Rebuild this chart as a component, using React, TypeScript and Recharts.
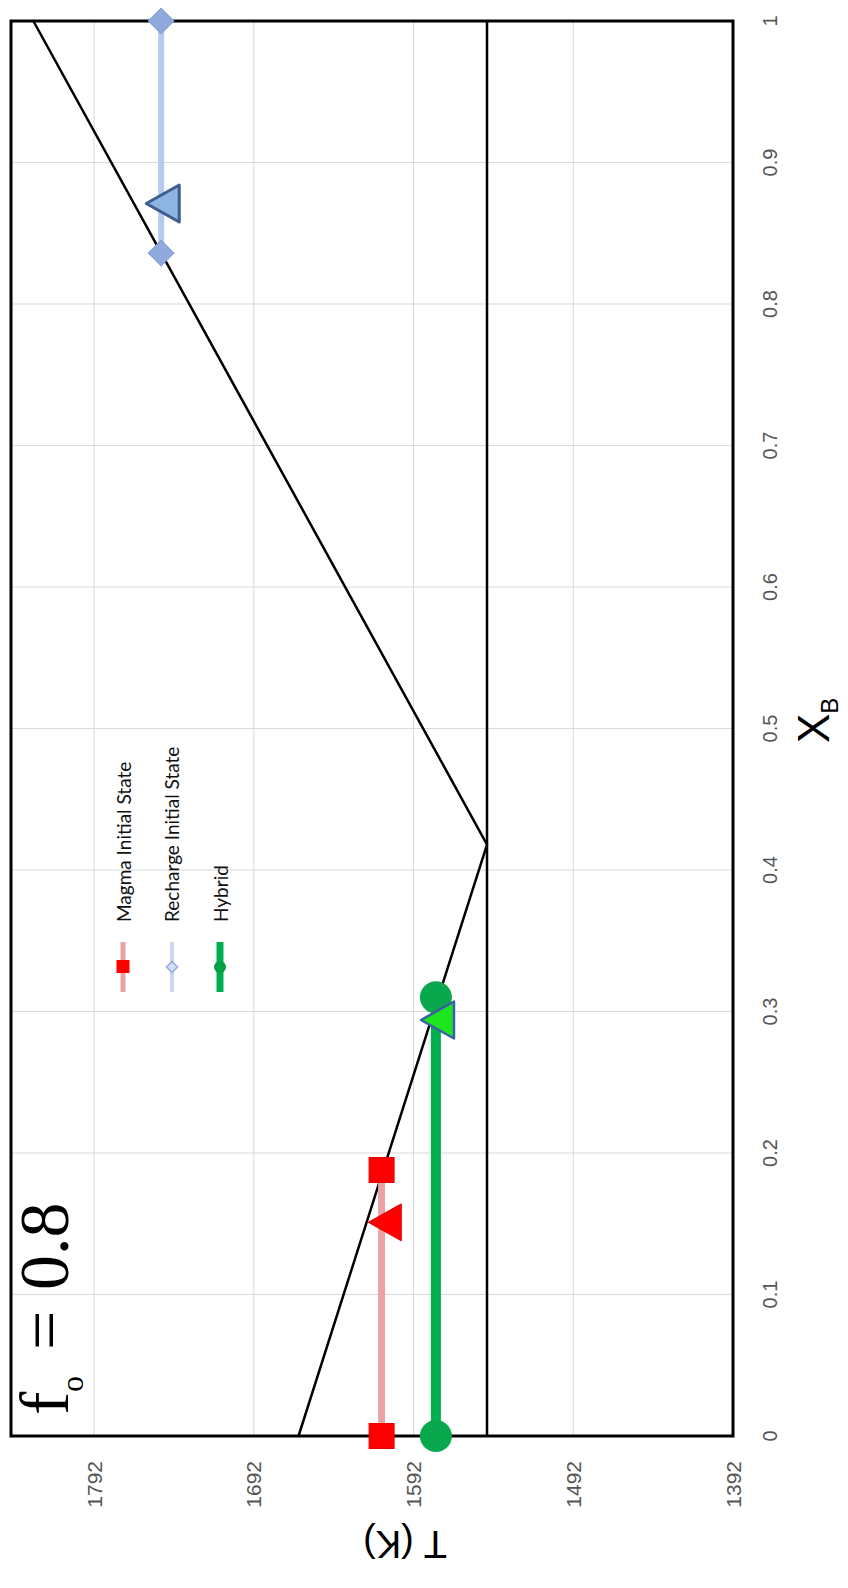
import React from 'react';
import { ComposedChart, Scatter, XAxis, YAxis, CartesianGrid, ReferenceArea, Legend } from 'recharts';

// ---- data ----
const xbTicks = [0, 0.1, 0.2, 0.3, 0.4, 0.5, 0.6, 0.7, 0.8, 0.9, 1];
const tTicks = [1392, 1492, 1592, 1692, 1792];
const tDomain = [1392, 1844];

const liquidusXB = [0, 0.418, 1];
const liquidusT = [1664, 1546, 1830];
const eutecticXB = [0, 1];
const eutecticT = [1546, 1546];

const magmaXB = [0, 0.188];
const magmaT = [1612, 1612];
const magmaTriXB = [0.151];
const magmaTriT = [1610];

const rechargeXB = [0.836, 1.0];
const rechargeT = [1750, 1750];
const rechargeTriXB = [0.871];
const rechargeTriT = [1749];

const hybridXB = [0, 0.31];
const hybridT = [1578, 1578];
const hybridTriXB = [0.294];
const hybridTriT = [1577];

const legendNames = ['Magma Initial State', 'Recharge Initial State', 'Hybrid'];

const zip = (xs: number[], ys: number[]) => xs.map((x, i) => ({ x, y: ys[i] }));

const W = 1588;
const H = 848;

const NoShape = () => <g />;
const Square = (p: any) => (
  <rect x={p.cx - 12.5} y={p.cy - 12.5} width={25} height={25} fill="#ff0000" stroke="#e80000" strokeWidth={1} />
);
const Circle = (p: any) => <circle cx={p.cx} cy={p.cy} r={16} fill="#0aa84c" />;
const Diamond = (p: any) => (
  <polygon
    points={`${p.cx},${p.cy - 13} ${p.cx + 13},${p.cy} ${p.cx},${p.cy + 13} ${p.cx - 13},${p.cy}`}
    fill="#8eaadc"
    stroke="#7f9dd4"
    strokeWidth={1}
  />
);
const makeTri = (fill: string, stroke: string, sw: number) => (p: any) => (
  <polygon
    points={`${p.cx},${p.cy - 16.5} ${p.cx - 18.5},${p.cy + 16.5} ${p.cx + 18.5},${p.cy + 16.5}`}
    fill={fill}
    stroke={stroke}
    strokeWidth={sw}
    strokeLinejoin="round"
  />
);
const RedTri = makeTri('#ff0000', '#e00000', 1);
const BlueTri = makeTri('#8db4e2', '#3d5f8e', 3);
const GreenTri = makeTri('#1ee61e', '#3a5fa8', 2.5);

const XTick = (p: any) => (
  <text x={p.x} y={770} textAnchor="middle" dominantBaseline="central" fontSize={20} fill="#555" fontFamily="'Liberation Sans', Arial, sans-serif">
    {p.payload.value}
  </text>
);
const YTick = (p: any) => (
  <text x={127} y={p.y} textAnchor="end" dominantBaseline="central" fontSize={21} fill="#555" fontFamily="'Liberation Sans', Arial, sans-serif">
    {p.payload.value}
  </text>
);

const XLabel = () => (
  <text x={845} y={829} fontSize={44} fill="#000" fontFamily="'Liberation Sans', Arial, sans-serif">
    X<tspan dy={9} fontSize={24}>B</tspan>
  </text>
);
const YLabel = () => (
  <text
    x={44}
    y={405}
    transform="rotate(-90, 44, 405)"
    textAnchor="middle"
    dominantBaseline="central"
    fontSize={38}
    fill="#000"
    fontFamily="'Liberation Sans', Arial, sans-serif"
  >
    T (K)
  </text>
);

const legendStyles = [
  { line: '#e9a3a3', lw: 5, marker: 'square' },
  { line: '#c9d7f0', lw: 4, marker: 'diamond' },
  { line: '#00b050', lw: 7, marker: 'circle' },
];

const LegendBox = () => (
  <div style={{ fontFamily: 'Lato, sans-serif', fontSize: 19, color: '#111' }}>
    {legendNames.map((name, i) => {
      const s = legendStyles[i];
      return (
        <div key={name} style={{ display: 'flex', alignItems: 'center', height: 48.5 }}>
          <svg width={50} height={20} style={{ display: 'block' }}>
            <line x1={0} y1={10} x2={50} y2={10} stroke={s.line} strokeWidth={s.lw} />
            {s.marker === 'square' && <rect x={19} y={3.5} width={13} height={13} fill="#ff0000" />}
            {s.marker === 'diamond' && (
              <polygon points="25,4.5 30.5,10 25,15.5 19.5,10" fill="#d6e0f4" stroke="#8faadc" strokeWidth={1.5} />
            )}
            {s.marker === 'circle' && <circle cx={25} cy={10} r={6} fill="#00a046" />}
          </svg>
          <span style={{ marginLeft: 20, whiteSpace: 'nowrap' }}>{name}</span>
        </div>
      );
    })}
  </div>
);

export default function App() {
  return (
    <div
      style={{
        position: 'absolute',
        left: 0,
        top: 0,
        width: W,
        height: H,
        background: '#fff',
        transformOrigin: '0 0',
        transform: `translateY(${W}px) rotate(-90deg)`,
      }}
    >
      <ComposedChart width={W} height={H} margin={{ top: 11, right: 21, left: 0, bottom: 0 }}>
        <CartesianGrid stroke="#d9d9d9" strokeWidth={1} />
        <XAxis
          type="number"
          dataKey="x"
          domain={[0, 1]}
          ticks={xbTicks}
          interval={0}
          axisLine={false}
          tickLine={false}
          height={115}
          tick={<XTick />}
          label={<XLabel />}
        />
        <YAxis
          type="number"
          dataKey="y"
          domain={tDomain}
          ticks={tTicks}
          interval={0}
          axisLine={false}
          tickLine={false}
          width={152}
          tick={<YTick />}
          label={<YLabel />}
        />
        <ReferenceArea x1={0} x2={1} y1={tDomain[0]} y2={tDomain[1]} fill="none" fillOpacity={0} stroke="#000" strokeWidth={3} />
        <Scatter data={zip(liquidusXB, liquidusT)} line={{ stroke: '#000', strokeWidth: 2.5 }} shape={<NoShape />} isAnimationActive={false} />
        <Scatter data={zip(eutecticXB, eutecticT)} line={{ stroke: '#000', strokeWidth: 2.5 }} shape={<NoShape />} isAnimationActive={false} />
        <Scatter data={zip(magmaXB, magmaT)} line={{ stroke: '#e9a3a3', strokeWidth: 7 }} shape={<Square />} isAnimationActive={false} />
        <Scatter data={zip(magmaTriXB, magmaTriT)} shape={<RedTri />} isAnimationActive={false} />
        <Scatter data={zip(rechargeXB, rechargeT)} line={{ stroke: '#b6c9ee', strokeWidth: 6 }} shape={<Diamond />} isAnimationActive={false} />
        <Scatter data={zip(rechargeTriXB, rechargeTriT)} shape={<BlueTri />} isAnimationActive={false} />
        <Scatter data={zip(hybridXB, hybridT)} line={{ stroke: '#00b050', strokeWidth: 10 }} shape={<Circle />} isAnimationActive={false} />
        <Scatter data={zip(hybridTriXB, hybridTriT)} shape={<GreenTri />} isAnimationActive={false} />
        <Legend
          layout="vertical"
          align="center"
          verticalAlign="middle"
          content={() => <LegendBox />}
          wrapperStyle={{ position: 'absolute', left: 596, top: 99, width: 330, height: 146 }}
        />
      </ComposedChart>
      <svg
        width={W}
        height={H}
        style={{ position: 'absolute', left: 0, top: 0, pointerEvents: 'none' }}
      >
        <text y={68} fontSize={70} fill="#000" fontFamily="'Liberation Serif', 'Times New Roman', serif">
          <tspan x={173}>f</tspan>
          <tspan x={196} dy={15} fontSize={32}>o</tspan>
          <tspan x={238} dy={-15}>=</tspan>
          <tspan x={298}>0.8</tspan>
        </text>
      </svg>
    </div>
  );
}
